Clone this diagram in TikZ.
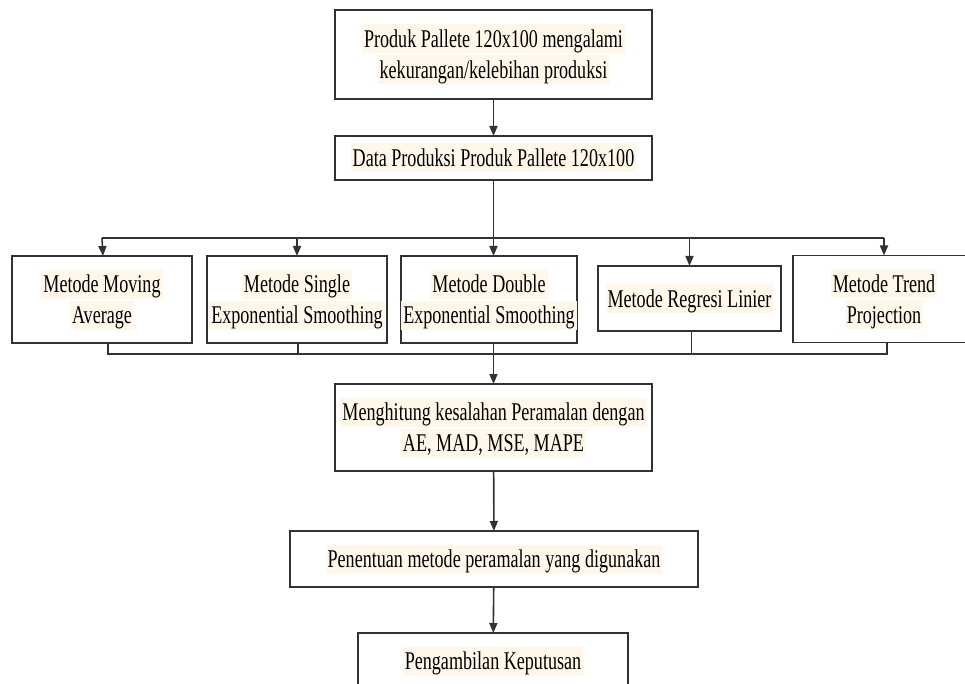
\documentclass[tikz,border=0pt]{standalone}
\usepackage{fontspec}
\setmainfont[FakeStretch=0.71]{Liberation Serif}
\usetikzlibrary{arrows.meta,calc}
\definecolor{hl}{RGB}{255,248,234}
\definecolor{ln}{RGB}{50,50,50}
\newcommand{\hlt}[1]{{\setlength{\fboxsep}{0pt}\colorbox{hl}{\rule[-6pt]{0pt}{29pt}\kern2pt#1\kern2pt}}}
\tikzset{
  box/.style={draw=ln, line width=1.6pt, fill=white, inner sep=0pt, outer sep=0pt,
    align=center, font=\fontsize{25.5}{31}\selectfont, text=black},
  wire/.style={draw=ln, line width=1.6pt},
  arr/.style={wire, -{Triangle[length=10pt,width=8pt]}}
}
\begin{document}
\begin{tikzpicture}[x=1pt,y=-1pt]
\useasboundingbox (0,0) rectangle (965,684);
\clip (0,0) rectangle (965,684);
\fill[white] (0,0) rectangle (965,684);

\node[box, minimum width=317, minimum height=89] (top) at (493.5,54.5)
  {\hlt{Produk Pallete 120x100 mengalami}\\\hlt{kekurangan/kelebihan produksi}};
\node[box, minimum width=317, minimum height=44] (data) at (493.5,158)
  {\hlt{Data Produksi Produk Pallete 120x100}};

\node[box, minimum width=180, minimum height=87] (m1) at (102,299.5)
  {\hlt{Metode Moving}\\\hlt{Average}};
\node[box, minimum width=180, minimum height=87] (m2) at (297,299.5)
  {\hlt{Metode Single}\\\hlt{Exponential Smoothing}};
\node[box, minimum width=176, minimum height=87] (m3) at (489,299.5)
  {\hlt{Metode Double}\\\hlt{Exponential Smoothing}};
\node[box, minimum width=183, minimum height=65] (m4) at (689.5,298.5)
  {\hlt{Metode Regresi Linier}};
\node[box, minimum width=182, minimum height=87] (m5) at (884,299)
  {\hlt{Metode Trend}\\\hlt{Projection}};

\node[box, minimum width=317, minimum height=87] (calc) at (493.5,427.5)
  {\hlt{Menghitung kesalahan Peramalan dengan}\\\hlt{AE, MAD, MSE, MAPE}};
\node[box, minimum width=408, minimum height=56] (pen) at (494,559)
  {\hlt{Penentuan metode peramalan yang digunakan}};
\node[box, minimum width=270, minimum height=56] (peng) at (493,661)
  {\hlt{Pengambilan Keputusan}};

\coordinate (ja) at (493.5,238);
\coordinate (jb) at (493.5,354);

\draw[arr] (top) -- (data);
\draw[wire] (data.south) -- (ja);
\draw[wire] (m1.north |- ja) -- (m5.north |- ja);
\draw[arr] (m1.north |- ja) -- ($(m1.north)+(1,0)$);
\draw[arr] (m2.north |- ja) -- (m2.north);
\draw[arr] (ja -| data.south) -- (ja |- m3.north);
\draw[arr] (m4.north |- ja) -- (m4.north);
\draw[arr] (m5.north |- ja) -- (m5.north);

\draw[wire] ($(m1.south)+(6,0)$) -- ($(m1.south |- jb)+(6,0)$) -- ($(m5.south |- jb)+(3,0)$) -- ($(m5.south)+(3,0)$);
\draw[wire] ($(m2.south)+(1,0)$) -- ($(m2.south |- jb)+(1,0)$);
\draw[wire] (jb |- m3.south) -- (jb);
\draw[wire] ($(m4.south)+(2,0)$) -- ($(m4.south |- jb)+(2,0)$);

\draw[arr] (jb) -- (calc);
\draw[arr] (calc) -- (pen);
\draw[arr] (pen) -- (peng);
\end{tikzpicture}
\end{document}
